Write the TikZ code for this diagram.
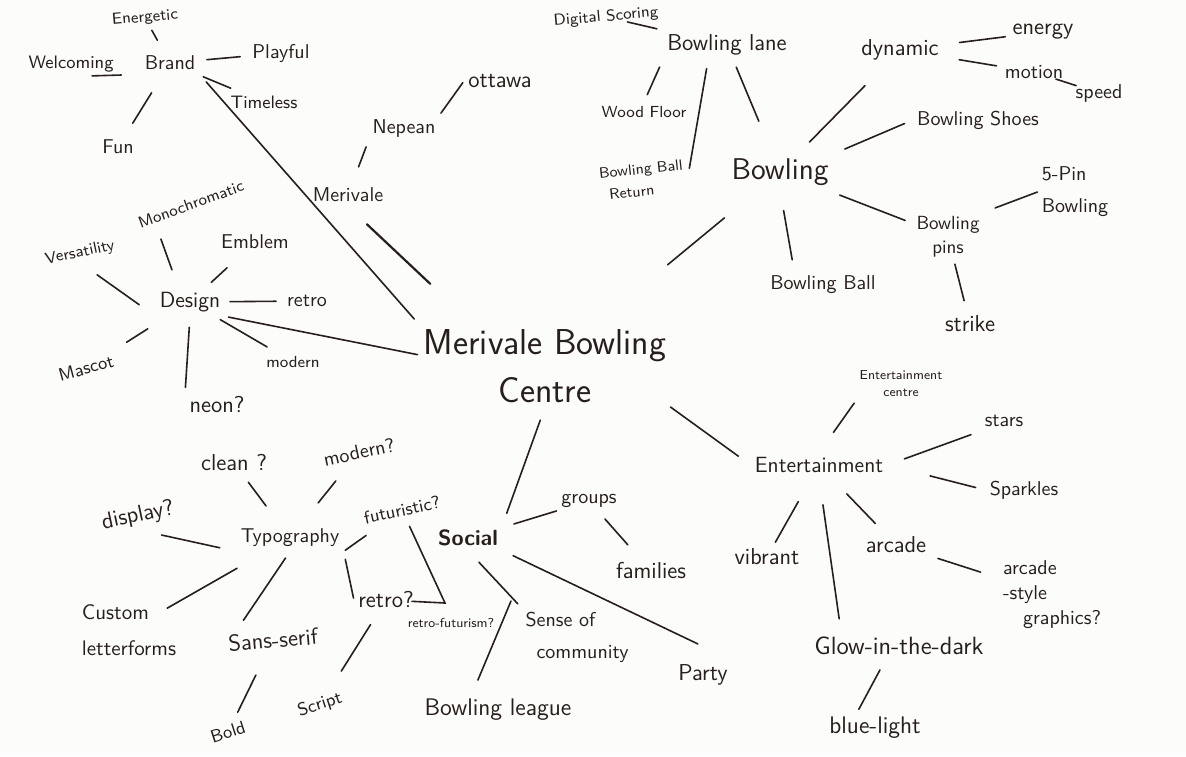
\documentclass[tikz,border=0pt]{standalone}
\usepackage{tikz}
\definecolor{ink}{RGB}{38,31,27}
\definecolor{paper}{RGB}{252,252,251}
\tikzset{
  hub/.style={font=\sffamily\fontsize{18}{24}\selectfont, align=center},
  big/.style={font=\sffamily\fontsize{15}{18}\selectfont},
  topic/.style={font=\sffamily\fontsize{11}{13}\selectfont},
  leafL/.style={font=\sffamily\fontsize{11.5}{14}\selectfont},
  leaf/.style={font=\sffamily\fontsize{10}{12}\selectfont},
  leafS/.style={font=\sffamily\fontsize{9}{11}\selectfont},
  small/.style={font=\sffamily\fontsize{8}{10}\selectfont},
  tiny/.style={font=\sffamily\fontsize{6.5}{8.5}\selectfont},
  link/.style={draw=ink, line width=0.8pt, line cap=round},
  gap/.style 2 args={shorten <=#1pt, shorten >=#2pt}
}

\begin{document}
\begin{tikzpicture}[x=0.5pt, y=-0.5pt, every node/.style={text=ink, inner sep=2pt}]
\useasboundingbox[fill=paper] (0,0) rectangle (1186,756);

\node[hub] (centre) at (545,366) {Merivale Bowling\\Centre};

% brand
\node[leaf] (brand) at (170,63) {Brand};
\node[small, rotate=5] (energetic) at (145,18) {Energetic};
\node[leafS] (welcoming) at (71,64) {Welcoming};
\node[leaf] (playful) at (281,53) {Playful};
\node[leafS] (timeless) at (264,102) {Timeless};
\node[leaf] (fun) at (118,147) {Fun};

\node[leaf] (merivale) at (348,195) {Merivale};
\node[leaf] (nepean) at (404,128) {Nepean};
\node[leafL] (ottawa) at (500,81) {ottawa};

% design
\node[topic] (design) at (190,302) {Design};
\node[small, rotate=20] (mono) at (191,204) {Monochromatic};
\node[small, rotate=12] (versa) at (80,253) {Versatility};
\node[leaf] (emblem) at (255,242) {Emblem};
\node[leaf] (dretro) at (307,301) {retro};
\node[leafS, rotate=15] (mascot) at (86,368) {Mascot};
\node[small] (dmodern) at (293,362) {modern};
\node[leafL] (neon) at (217,405) {neon?};

% typography
\node[leaf] (typo) at (290,538) {Typography};
\node[leafL] (clean) at (234,463) {clean ?};
\node[leaf, rotate=12] (tmodern) at (359,452) {modern?};
\node[leafL, rotate=12] (display) at (138,516) {display?};
\node[leafS, rotate=12] (futur) at (402,510) {futuristic?};
\node[leafL] (tretro) at (386,600) {retro?};
\node[tiny] (rfut) at (451,623) {retro-futurism?};
\node[font=\sffamily\fontsize{10.5}{18}\selectfont, align=left] (custom) at (129,630) {Custom\\letterforms};
\node[leafL, rotate=5] (sans) at (273,640) {Sans-serif};
\node[leafS, rotate=18] (bold) at (228,732) {Bold};
\node[leafS, rotate=18] (script) at (320,705) {Script};
\coordinate (rfj) at (445,603);

% social
\node[font=\sffamily\bfseries\fontsize{11}{13}\selectfont] (social) at (468,538) {Social};
\node[leaf] (groups) at (589,501) {groups};
\node[leafL] (families) at (651,571) {families};
\node[font=\sffamily\fontsize{10}{16}\selectfont, align=left] (sense) at (577,637) {Sense of\\\hspace{5.5pt}community};
\node[font=\sffamily\fontsize{12}{14}\selectfont] (league) at (498,710) {Bowling league};
\node[leafL] (party) at (703,675) {Party};
\coordinate (lgj) at (511,601);

% entertainment
\node[topic] (ent) at (819,465) {Entertainment};
\node[tiny, align=center] (entc) at (901,384) {Entertainment\\centre};
\node[leaf] (stars) at (1004,421) {stars};
\node[leaf] (sparkles) at (1024,490) {Sparkles};
\node[leafL] (vibrant) at (767,557) {vibrant};
\node[leafL] (arcade) at (896,545) {arcade};
\node[font=\sffamily\fontsize{10}{12.5}\selectfont, align=left] (arcstyle) at (1052,595) {arcade\\-style\\\hspace{10pt}graphics?};
\node[font=\sffamily\fontsize{12.5}{15}\selectfont] (glow) at (899,646) {Glow-in-the-dark};
\node[font=\sffamily\fontsize{12}{14}\selectfont] (blue) at (875,728) {blue-light};

% bowling
\node[big] (bowling) at (780,172) {Bowling};
\node[leafL] (lane) at (727,45) {Bowling lane};
\node[small, rotate=5] (digital) at (606,17) {Digital Scoring};
\node[small] (wood) at (644,112) {Wood Floor};
\node[font=\sffamily\fontsize{7.5}{11}\selectfont, align=left, rotate=6] (return) at (642,180) {Bowling Ball\\\hspace{4pt}Return};
\node[leafL] (dynamic) at (900,50) {dynamic};
\node[leafL] (energy) at (1043,32) {energy};
\node[leaf] (motion) at (1034,72) {motion};
\node[leaf] (speed) at (1099,93) {speed};
\node[leaf] (shoes) at (978,120) {Bowling Shoes};
\node[font=\sffamily\fontsize{10}{16}\selectfont, align=left] (fivepin) at (1075,192) {5-Pin\\Bowling};
\node[font=\sffamily\fontsize{9.5}{12}\selectfont, align=center] (pins) at (948,237) {Bowling\\pins};
\node[leaf] (ball) at (823,285) {Bowling Ball};
\node[leafL] (strike) at (970,324) {strike};

\draw[link, gap={7}{13}] (energetic.center) -- (brand.center);
\draw[link, gap={9.5}{10.5}] (brand.south west) -- (welcoming.south);
\draw[link, gap={18.5}{20.5}] (brand.center) -- (playful.center);
\draw[link, gap={18}{18}] (brand.center) -- (timeless.center);
\draw[link, gap={17.5}{14}] (brand.center) -- (fun.center);
\draw[link, gap={5}{4}] (brand.south east) -- (centre.north west);

\draw[link, gap={15}{3}] (merivale.center) -- (nepean.south west);
\draw[link, gap={1}{1}] (nepean.north east) -- (ottawa.west);
\draw[link, line width=1.1pt, gap={13}{30}] (merivale.south) -- (centre.150);

\draw[link, gap={9.5}{6.3}] (design.129) -- (mono.194);
\draw[link, gap={10}{9}] (design.south west) -- (versa.south);
\draw[link, gap={14.5}{19}] (design.center) -- (emblem.center);
\draw[link, gap={20}{15.5}] (design.center) -- (dretro.center);
\draw[link, gap={25}{24}] (design.center) -- (mascot.center);
\draw[link, gap={5.5}{2.5}] (design.south) -- (neon.north west);
\draw[link, gap={17.5}{15}] (design.center) -- (dmodern.center);
\draw[link, gap={2}{1}] (design.south east) -- (centre.175);

\draw[link, gap={20}{12}] (typo.center) -- (clean.center);
\draw[link, gap={22.5}{18.5}] (typo.center) -- (tmodern.center);
\draw[link, gap={8.5}{10.5}] (typo.south west) -- (display.south);
\draw[link, gap={1}{22}] (typo.south east) -- (futur.center);
\draw[link, gap={4}{1}] (typo.south east) -- (tretro.west);
\draw[link, gap={30.5}{22}] (typo.center) -- (custom.center);
\draw[link, gap={4}{6}] (typo.south) -- (sans.160);
\draw[link, gap={19.5}{11}] (sans.center) -- (bold.center);
\draw[link, gap={14.5}{20}] (tretro.center) -- (script.center);
\draw[link, gap={9}{13}] (futur.center) -- (rfj) -- (tretro.center);

\draw[link, gap={7}{6.5}] (centre.south) -- (social.north east);
\draw[link, gap={24}{17}] (social.center) -- (groups.center);
\draw[link, gap={12}{17.5}] (groups.center) -- (families.center);
\draw[link, gap={8}{2.5}] (social.south) -- (sense.north west);
\draw[link, gap={0}{8}] (lgj) -- (league.150);
\draw[link, gap={6}{19}] (social.south east) -- (party.north east);

\draw[link, gap={0}{7.5}] (centre.south east) -- (ent.west);
\draw[link, gap={12.5}{1}] (ent.north) -- (entc.south west);
\draw[link, gap={9}{5}] (ent.east) -- (stars.south west);
\draw[link, gap={22}{5}] (ent.east) -- (sparkles.west);
\draw[link, gap={21}{8.5}] (ent.center) -- (vibrant.center);
\draw[link, gap={20}{15}] (ent.center) -- (arcade.center);
\draw[link, gap={22}{37.5}] (arcade.center) -- (arcstyle.center);
\draw[link, gap={14}{7}] (ent.south) -- (glow.167);
\draw[link, gap={6}{2}] (glow.-135) -- (blue.140);

\draw[link, gap={79.5}{36}] (centre.center) -- (bowling.center);
\draw[link, gap={11}{36}] (digital.center) -- (lane.center);
\draw[link, gap={4}{4}] (lane.south west) -- (wood.north);
\draw[link, gap={4.5}{3.5}] (lane.218) -- (return.east);
\draw[link, gap={12}{27.5}] (lane.center) -- (bowling.center);
\draw[link, gap={21}{25}] (bowling.center) -- (dynamic.center);
\draw[link, gap={30}{19}] (dynamic.center) -- (energy.center);
\draw[link, gap={30}{19}] (dynamic.center) -- (motion.center);
\draw[link, gap={11.5}{12}] (motion.center) -- (speed.center);
\draw[link, gap={6.5}{4.5}] (bowling.north east) -- (shoes.west);
\draw[link, gap={32}{23}] (bowling.center) -- (pins.center);
\draw[link, gap={6}{0}] (pins.north east) -- (fivepin.west);
\draw[link, gap={10.5}{6}] (bowling.south) -- (ball.155);
\draw[link, gap={14}{12}] (pins.center) -- (strike.center);
\end{tikzpicture}
\end{document}
